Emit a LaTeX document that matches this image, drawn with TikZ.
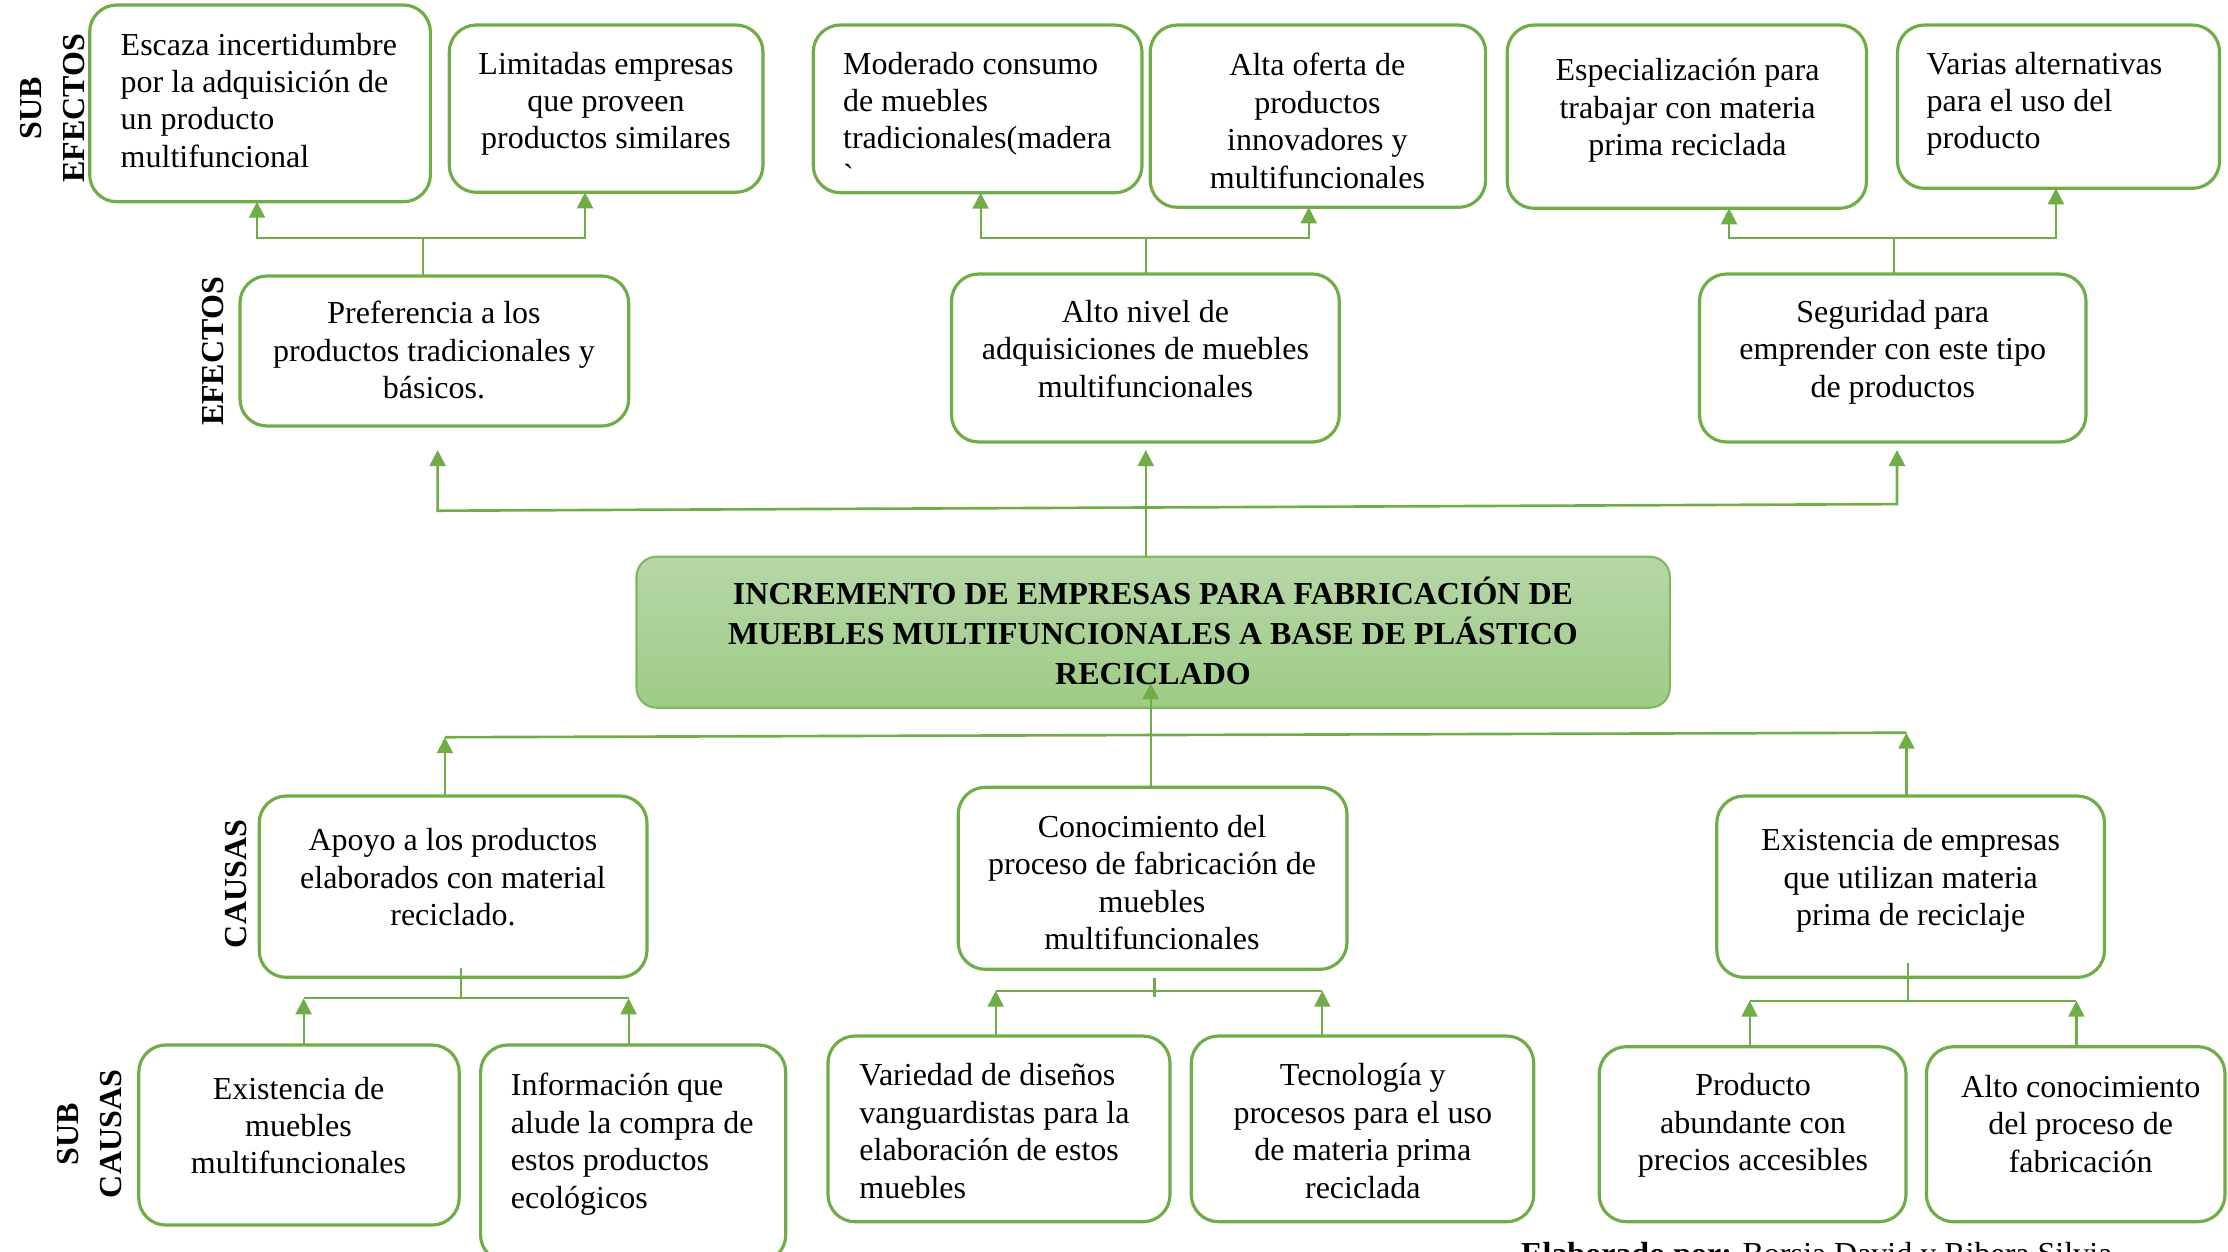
\documentclass[tikz,border=0pt]{standalone}
\usepackage{fontspec}
\setmainfont{Liberation Serif}
\usetikzlibrary{arrows.meta}
\definecolor{gline}{HTML}{70AD47}
\definecolor{mtop}{HTML}{B6D7A7}
\definecolor{mbot}{HTML}{9ECB86}
\definecolor{mborder}{HTML}{7FB95E}
% \rbox[opts]{x1}{y1}{x2}{y2}{name}
\newcommand\rbox[6][]{\node[bxs,#1,minimum width={(#4-#2)*0.01cm},minimum height={(#5-#3)*0.01cm}] (#6) at ({(#2+#4)/2},{(#3+#5)/2}) {};}
% \rtxt[opts]{name}{x}{first baseline}{text}
\newcommand\rtxt[5][]{\node[txs,#1] (#2) at (#3,{#4-30.2}) {\rule{0pt}{8.6pt}#5};}
\begin{document}
\begin{tikzpicture}[x=0.01cm,y=-0.01cm,
  bxs/.style={draw=gline,line width=0.9pt,rounded corners=0.27cm,inner sep=0pt,outer sep=0pt,fill=white},
  mst/.style={draw=mborder,line width=0.6pt,rounded corners=0.2cm,top color=mtop,bottom color=mbot},
  txs/.style={anchor=north,align=center,inner sep=0pt,font=\fontsize{9.1}{10.65}\selectfont},
  lft/.style={anchor=north west,align=left},
  ln/.style={draw=gline,line width=0.62pt},
  lab/.style={rotate=90,align=center,inner sep=0pt,font=\fontsize{9.1}{12.3}\selectfont\bfseries},
  >={Triangle[length=0.16cm,width=0.16cm]}]
\useasboundingbox (0,0) rectangle (2228,1251);
\clip (0,0) rectangle (2228,1251);

% ---------- boxes ----------
\rbox{89.7}{5}{430.4}{201.7}{A1}
\rbox{449.3}{25}{763}{192.3}{A2}
\rbox{813.3}{25}{1142}{192.7}{A3}
\rbox{1150.2}{25}{1485.6}{207.3}{A4}
\rbox{1507.2}{25}{1866.5}{208.3}{A5}
\rbox{1897.5}{25}{2219.5}{188.3}{A6}
\rbox{240}{276}{628.7}{426}{E1}
\rbox{951.5}{274}{1339.3}{442}{E2}
\rbox{1699.5}{274}{2086}{442}{E3}
\rbox[mst]{636.5}{556.7}{1669.8}{707.7}{M}
\rbox{259.2}{796}{647}{977.3}{C1}
\rbox{958.2}{787.3}{1347}{969.3}{C2}
\rbox{1716.8}{796}{2104.5}{977.3}{C3}
\rbox{138.8}{1045}{459.2}{1225}{SC1}
\rbox{480.6}{1045}{785.7}{1262}{SC2}
\rbox{828}{1036}{1170}{1221.7}{SC3}
\rbox{1191.3}{1036}{1533.7}{1221.7}{SC4}
\rbox{1599.2}{1046.7}{1906}{1221.7}{SC5}
\rbox{1926.4}{1046.7}{2225}{1221.7}{SC6}

% ---------- connectors: sub-effects ----------
\coordinate (g1) at (423.2,238.3);  \coordinate (g1l) at (257,238.3);   \coordinate (g1r) at (585,238.3);
\coordinate (g2) at (1146.3,238.3); \coordinate (g2l) at (980.6,238.3); \coordinate (g2r) at (1308.7,238.3);
\coordinate (g3) at (1893.6,238.3); \coordinate (g3l) at (1729,238.3);  \coordinate (g3r) at (2055.9,238.3);
\draw[ln] (E1.north -| g1) -- (g1);
\draw[ln,<->] (A1.south -| g1l) -- (g1l) -- (g1r) -- (A2.south -| g1r);
\draw[ln] (E2.north -| g2) -- (g2);
\draw[ln,<->] (A3.south -| g2l) -- (g2l) -- (g2r) -- (A4.south -| g2r);
\draw[ln] (E3.north -| g3) -- (g3);
\draw[ln,<->] (A5.south -| g3l) -- (g3l) -- (g3r) -- (A6.south -| g3r);

% ---------- connectors: effects ----------
\coordinate (eL) at (437.6,510.7); \coordinate (eR) at (1897,504.1);
\coordinate (tE1) at (437.6,450); \coordinate (tE2) at (1145.8,450); \coordinate (tE3) at (1897,450);
\draw[ln,line width=0.75pt,<->] (tE1) -- (eL) -- (eR) -- (tE3);
\draw[ln,->] (M.north -| tE2) -- (tE2);

% ---------- connectors: causes ----------
\coordinate (cL) at (444.9,737.2); \coordinate (cR) at (1906.4,732.7);
\coordinate (tM) at (1150.7,683.3);
\draw[ln,->] (C1.north -| cL) -- (cL);
\draw[ln,line width=0.75pt] (cL) -- (cR);
\draw[ln,->] (C3.north -| cR) -- (cR);
\draw[ln,->] (C2.north -| tM) -- (tM);

% ---------- connectors: sub-causes ----------
\coordinate (s4t) at (460.7,968.3); \coordinate (s4) at (460.7,998.3);
\coordinate (s4l) at (303.6,998.3); \coordinate (s4r) at (628.6,998.3);
\draw[ln] (s4t) -- (s4);
\draw[ln] (s4l) -- (s4r);
\draw[ln,->] (SC1.north -| s4l) -- (s4l);
\draw[ln,->] (SC2.north -| s4r) -- (s4r);

\coordinate (s5t) at (1154.5,978.3); \coordinate (s5) at (1154.5,996.7);
\coordinate (s5l) at (995.7,990.7); \coordinate (s5r) at (1322.3,990.7);
\draw[ln] (s5t) -- (s5);
\draw[ln] (s5l) -- (s5r);
\draw[ln,->] (SC3.north -| s5l) -- (s5l);
\draw[ln,->] (SC4.north -| s5r) -- (s5r);

\coordinate (s6t) at (1908.1,963.3); \coordinate (s6) at (1908.1,1000.7);
\coordinate (s6l) at (1749.6,1000.7); \coordinate (s6r) at (2076.4,1000.7);
\draw[ln] (s6t) -- (s6);
\draw[ln] (s6l) -- (s6r);
\draw[ln,->] (SC5.north -| s6l) -- (s6l);
\draw[ln,->] (SC6.north -| s6r) -- (s6r);

% ---------- texts ----------
\rtxt[lft]{A1t}{120}{54.3}{Escaza incertidumbre\\por la adquisición de\\un producto\\multifuncional}
\rtxt{A2t}{606}{73.3}{Limitadas empresas\\que proveen\\productos similares}
\rtxt[lft]{A3t}{842.4}{73.3}{Moderado consumo\\de muebles\\tradicionales(madera\\\textasciigrave}
\rtxt{A4t}{1317.4}{75}{Alta oferta de\\productos\\innovadores y\\multifuncionales}
\rtxt{A5t}{1687.5}{80}{Especialización para\\trabajar con materia\\prima reciclada}
\rtxt[lft]{A6t}{1926}{73.3}{Varias alternativas\\para el uso del\\producto}
\rtxt{E1t}{434}{323}{Preferencia a los\\productos tradicionales y\\básicos.}
\rtxt{E2t}{1145.4}{321.7}{Alto nivel de\\adquisiciones de muebles\\multifuncionales}
\rtxt{E3t}{1892.7}{321.7}{Seguridad para\\emprender con este tipo\\de productos}
\rtxt[font=\fontsize{9.1}{11.38}\selectfont\bfseries]{Mt}{1153}{603.3}{INCREMENTO DE EMPRESAS PARA FABRICACIÓN DE\\MUEBLES MULTIFUNCIONALES A BASE DE PLÁSTICO\\RECICLADO}
\rtxt{C1t}{453}{850}{Apoyo a los productos\\elaborados con material\\reciclado.}
\rtxt{C2t}{1152}{836.7}{Conocimiento del\\proceso de fabricación de\\muebles\\multifuncionales}
\rtxt{C3t}{1910.7}{850}{Existencia de empresas\\que utilizan materia\\prima de reciclaje}
\rtxt{SC1t}{298.5}{1098.3}{Existencia de\\muebles\\multifuncionales}
\rtxt[lft]{SC2t}{510.2}{1095}{Información que\\alude la compra de\\estos productos\\ecológicos}
\rtxt[lft]{SC3t}{858.7}{1085}{Variedad de diseños\\vanguardistas para la\\elaboración de estos\\muebles}
\rtxt{SC4t}{1362.8}{1085}{Tecnología y\\procesos para el uso\\de materia prima\\reciclada}
\rtxt{SC5t}{1753}{1095}{Producto\\abundante con\\precios accesibles}
\rtxt{SC6t}{2080.7}{1096.7}{Alto conocimiento\\del proceso de\\fabricación}

% ---------- side labels ----------
\node[lab] (Lse) at (52.7,108) {SUB\\EFECTOS};
\node[lab] (Le) at (213.2,351.5) {EFECTOS};
\node[lab] (Lc) at (236,884) {CAUSAS};
\node[lab] (Lsc) at (89.7,1134) {SUB\\CAUSAS};

% ---------- footer (cut by the page edge, as in the reference) ----------
\node[anchor=base west,inner sep=0pt,font=\fontsize{9.1}{10.65}\selectfont] (foot) at (1520.5,1264) {\textbf{Elaborado por:} Borsja David y Ribera Silvia};
\end{tikzpicture}
\end{document}
